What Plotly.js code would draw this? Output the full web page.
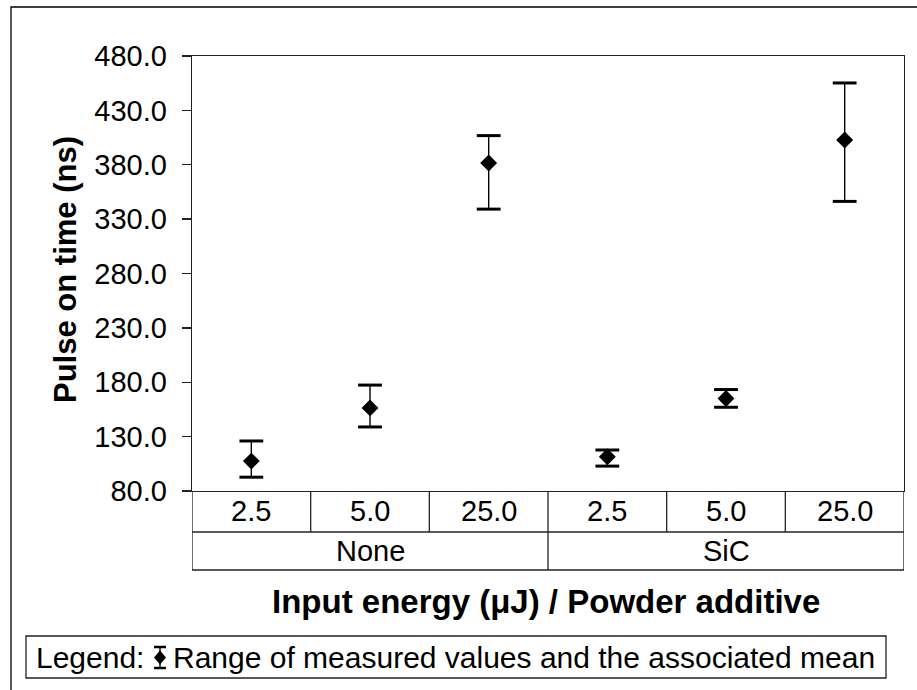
<!DOCTYPE html>
<html><head><meta charset="utf-8">
<script src="https://cdn.plot.ly/plotly-3.0.1.min.js"></script>
<style>html,body{margin:0;padding:0;background:#fff;} #chart{width:917px;height:690px;}</style>
</head><body><div id="chart"></div>
<script>
// ---- data ----
const groups = ['None', 'SiC'];
const energies = ['2.5', '5.0', '25.0'];
const meanValues  = [107.5, 156.4, 381.6, 111.5, 165.0, 402.8];
const upperValues = [126.0, 177.4, 406.8, 117.7, 173.3, 455.2];
const lowerValues = [92.7, 138.9, 339.2, 102.9, 157.0, 346.3];
const yTickValues = [80, 130, 180, 230, 280, 330, 380, 430, 480];
const yTickLabels = ['80.0', '130.0', '180.0', '230.0', '280.0', '330.0', '380.0', '430.0', '480.0'];
const xTitle = 'Input energy (\u03bcJ) / Powder additive';
const yTitle = 'Pulse on time (ns)';
const legendLabel = 'Legend:';
const legendText = 'Range of measured values and the associated mean';

// ---- derived ----
const nE = energies.length;
const xIdx = meanValues.map((_, i) => i);
const errPlus = meanValues.map((m, i) => upperValues[i] - m);
const errMinus = meanValues.map((m, i) => m - lowerValues[i]);

// layout geometry (pixels)
const L = 192, R = 904, T = 56, B = 491;
const px = x => (x - L) / (R - L);
const py = y => (B - y) / (B - T);
const row1 = py(532), row2 = py(570);

const FONT = 'Liberation Sans, Arial, sans-serif';
const lineCol = '#222';

const traces = [
  {
    x: xIdx, y: meanValues, type: 'scatter', mode: 'markers',
    marker: {symbol: 'diamond', size: 13, color: '#000'},
    error_y: {type: 'data', symmetric: false, array: errPlus, arrayminus: errMinus,
              color: '#000', thickness: 1.4, width: 0},
    showlegend: false, hoverinfo: 'skip', cliponaxis: false
  },
  {
    x: xIdx.concat(xIdx), y: upperValues.concat(lowerValues), type: 'scatter', mode: 'markers',
    marker: {symbol: 'line-ew', size: 17, color: '#000', line: {color: '#000', width: 3}},
    showlegend: false, hoverinfo: 'skip', cliponaxis: false
  }
];

const shapes = [];
const annotations = [];
// category table lines
shapes.push({type: 'line', xref: 'x', yref: 'paper', x0: -0.5, x1: meanValues.length - 0.5, y0: row1, y1: row1, line: {color: lineCol, width: 1.3}});
shapes.push({type: 'line', xref: 'x', yref: 'paper', x0: -0.5, x1: meanValues.length - 0.5, y0: row2, y1: row2, line: {color: lineCol, width: 1.3}});
for (let k = 0; k <= meanValues.length; k++) {
  const isGroupEdge = (k % nE === 0);
  shapes.push({type: 'line', xref: 'x', yref: 'paper', x0: k - 0.5, x1: k - 0.5, y0: 0, y1: isGroupEdge ? row2 : row1, line: {color: lineCol, width: 1.3}});
}
// category labels
xIdx.forEach(i => {
  annotations.push({xref: 'x', yref: 'paper', x: i, y: (0 + row1) / 2, text: energies[i % nE], showarrow: false,
    xanchor: 'center', yanchor: 'middle', font: {family: FONT, size: 29, color: '#000'}});
});
groups.forEach((g, gi) => {
  annotations.push({xref: 'x', yref: 'paper', x: gi * nE + (nE - 1) / 2, y: (row1 + row2) / 2, text: g, showarrow: false,
    xanchor: 'center', yanchor: 'middle', font: {family: FONT, size: 29, color: '#000'}});
});
// titles
annotations.push({xref: 'paper', yref: 'paper', x: px(546), y: py(601), text: '<b>' + xTitle + '</b>', showarrow: false,
  xanchor: 'center', yanchor: 'middle', font: {family: FONT, size: 33, color: '#000'}});
annotations.push({xref: 'paper', yref: 'paper', x: px(65), y: py(270), text: '<b>' + yTitle + '</b>', showarrow: false, textangle: -90,
  xanchor: 'center', yanchor: 'middle', font: {family: FONT, size: 31, color: '#000'}});
// outer frame
shapes.push({type: 'rect', xref: 'paper', yref: 'paper', x0: px(11), x1: px(940), y0: py(7), y1: py(720), line: {color: '#000', width: 1.3}});
// legend box
shapes.push({type: 'rect', xref: 'paper', yref: 'paper', x0: px(26), x1: px(886), y0: py(636), y1: py(678), line: {color: '#222', width: 1.3}});
annotations.push({xref: 'paper', yref: 'paper', x: px(34), y: py(657), text: legendLabel, showarrow: false,
  xanchor: 'left', yanchor: 'middle', font: {family: FONT, size: 30, color: '#000'}});
annotations.push({xref: 'paper', yref: 'paper', x: px(877), y: py(657), text: legendText, showarrow: false,
  xanchor: 'right', yanchor: 'middle', font: {family: FONT, size: 30, color: '#000'}});
// legend symbol
const sx = 160, sTop = 647, sBot = 668, sMid = 657.5;
shapes.push({type: 'line', xref: 'paper', yref: 'paper', x0: px(sx), x1: px(sx), y0: py(sTop), y1: py(sBot), line: {color: '#000', width: 1.4}});
shapes.push({type: 'line', xref: 'paper', yref: 'paper', x0: px(sx - 6), x1: px(sx + 6), y0: py(sTop), y1: py(sTop), line: {color: '#000', width: 2.5}});
shapes.push({type: 'line', xref: 'paper', yref: 'paper', x0: px(sx - 6), x1: px(sx + 6), y0: py(sBot), y1: py(sBot), line: {color: '#000', width: 2.5}});
shapes.push({type: 'path', xref: 'paper', yref: 'paper',
  path: `M ${px(sx - 6)} ${py(sMid)} L ${px(sx)} ${py(sMid - 7)} L ${px(sx + 6)} ${py(sMid)} L ${px(sx)} ${py(sMid + 7)} Z`,
  fillcolor: '#000', line: {color: '#000', width: 0}});

const layout = {
  width: 917, height: 690,
  margin: {l: L, r: 917 - R, t: T, b: 690 - B, pad: 0},
  paper_bgcolor: '#fff', plot_bgcolor: '#fff',
  showlegend: false,
  xaxis: {range: [-0.5, meanValues.length - 0.5], showgrid: false, zeroline: false, showticklabels: false,
          ticks: '', showline: true, linecolor: lineCol, linewidth: 1.3, mirror: true, fixedrange: true},
  yaxis: {range: [80, 480], tickmode: 'array', tickvals: yTickValues, ticktext: yTickLabels,
          ticks: 'outside', ticklen: 9, tickwidth: 1.3, tickcolor: lineCol, ticklabelstandoff: 9,
          tickfont: {family: FONT, size: 29, color: '#000'},
          showgrid: false, zeroline: false, showline: true, linecolor: lineCol, linewidth: 1.3, mirror: true, fixedrange: true},
  shapes: shapes,
  annotations: annotations
};

Plotly.newPlot('chart', traces, layout, {staticPlot: true, displayModeBar: false});
</script>
</body></html>
